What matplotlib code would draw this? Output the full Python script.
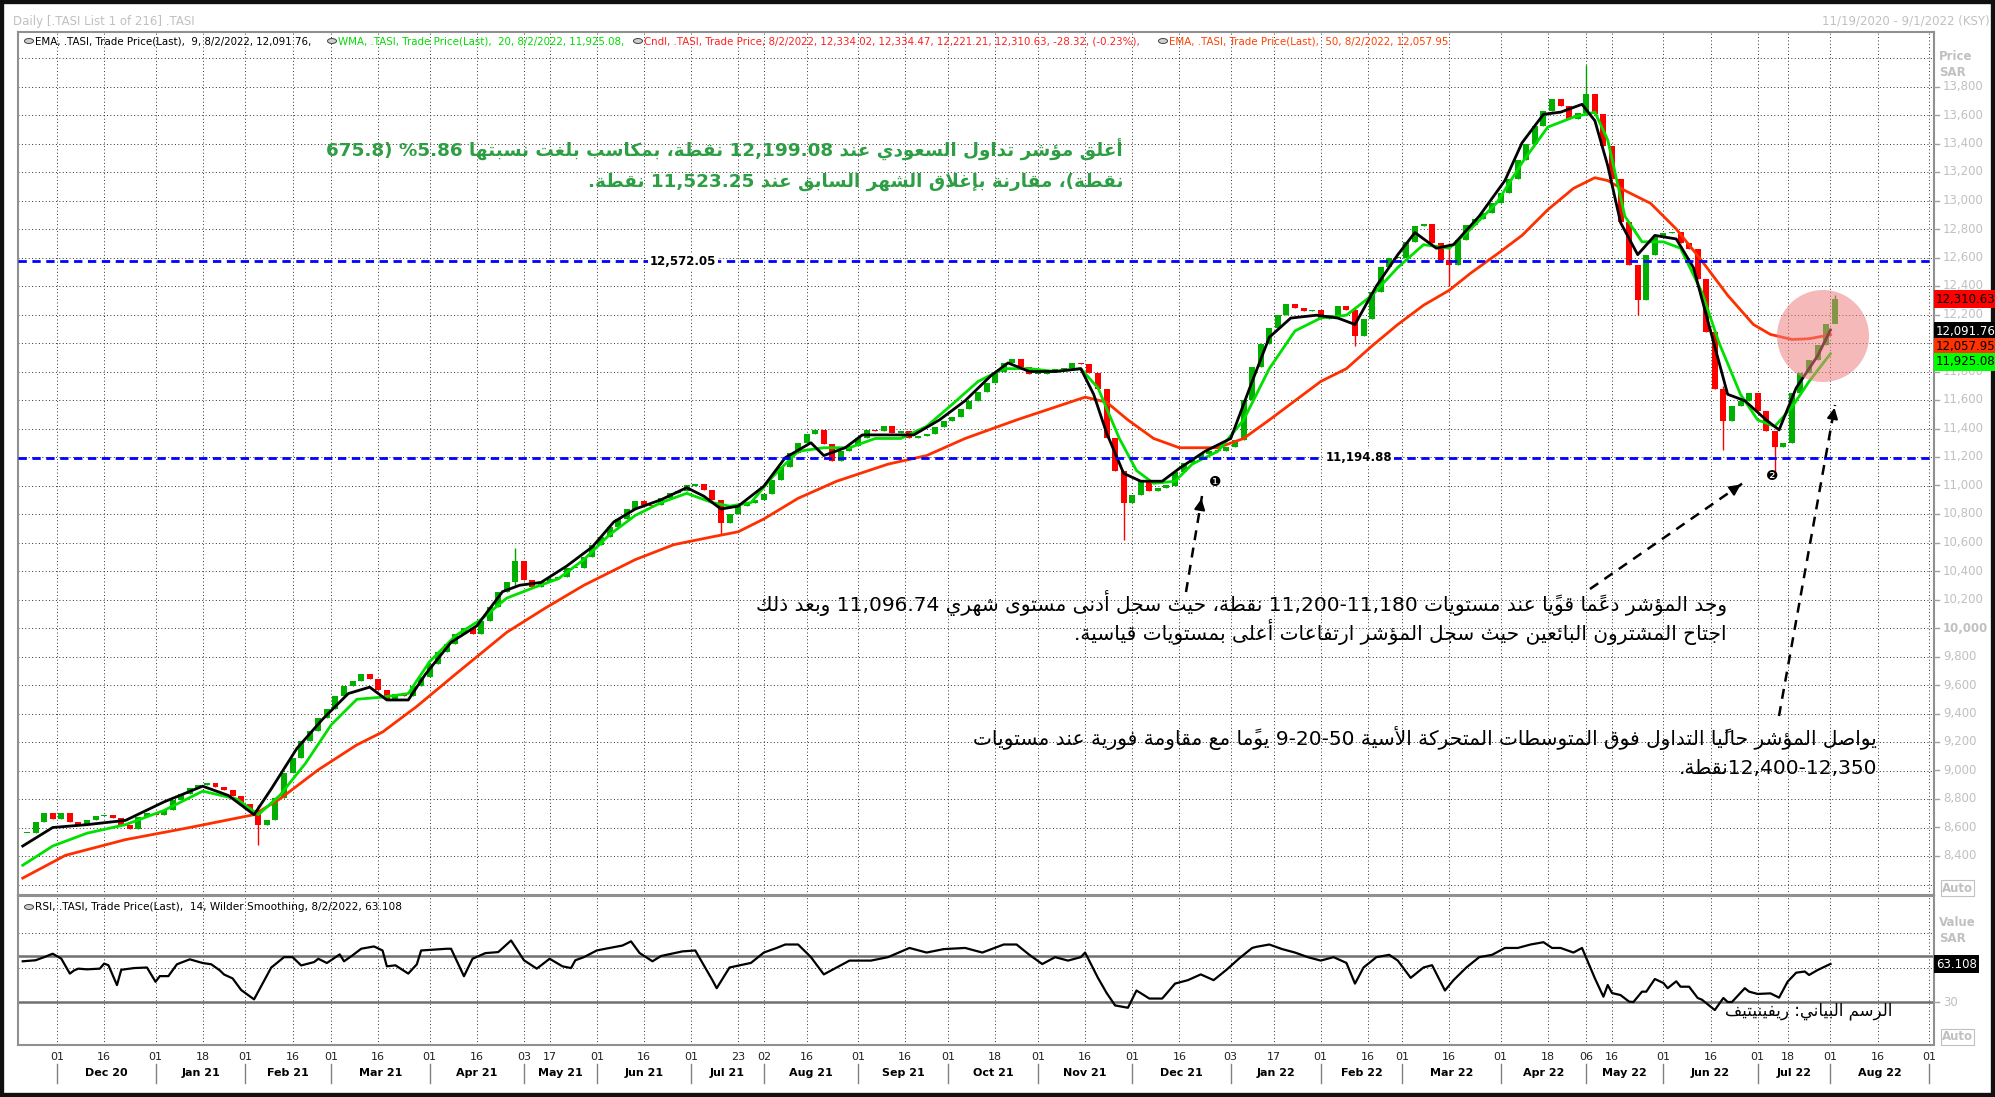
import numpy as np
import pandas as pd
import matplotlib
matplotlib.use("Agg")
import matplotlib.pyplot as plt
from matplotlib.patches import Rectangle, Ellipse, Circle, FancyArrowPatch
from matplotlib.lines import Line2D
import re

# ---------------- data ----------------
HOLIDAYS = ['2021-05-11', '2021-05-12', '2021-05-13', '2021-05-14',
            '2021-07-16', '2021-07-19', '2021-07-20', '2021-07-21', '2021-07-22',
            '2021-09-23', '2022-02-22', '2022-04-29', '2022-05-02', '2022-05-03',
            '2022-05-04', '2022-05-05', '2022-07-07', '2022-07-08', '2022-07-11', '2022-07-12']
START, LAST, AXIS_END = '2020-11-19', '2022-08-02', '2022-09-01'

# closes read every 2nd session, ending on the last session (8/2/2022)
close_2s = [8560, 8640, 8700, 8660, 8700, 8640, 8620, 8655, 8680, 8690,
            8670, 8620, 8590, 8675, 8700, 8685, 8720, 8790, 8835, 8880,
            8900, 8915, 8885, 8860, 8820, 8765, 8720, 8620, 8650, 8810,
            8980, 9090, 9210, 9280, 9370, 9430, 9520, 9595, 9625, 9680,
            9645, 9565, 9505, 9540, 9525, 9590, 9655, 9745, 9835, 9885,
            9960, 10000, 9960, 10050, 10145, 10255, 10320, 10470, 10340, 10290,
            10320, 10345, 10360, 10420, 10420, 10500, 10580, 10640, 10710, 10765,
            10835, 10890, 10865, 10860, 10915, 10950, 10960, 11000, 11010, 10970,
            10900, 10740, 10800, 10855, 10875, 10900, 10940, 11040, 11130, 11230,
            11295, 11360, 11390, 11290, 11170, 11240, 11280, 11335, 11390, 11380,
            11415, 11370, 11380, 11330, 11345, 11360, 11410, 11455, 11480, 11540,
            11595, 11655, 11720, 11795, 11860, 11890, 11830, 11780, 11780, 11800,
            11820, 11825, 11860, 11850, 11790, 11680, 11330, 11100, 10880, 10930,
            11040, 10960, 10980, 11000, 11095, 11155, 11190, 11220, 11240, 11240,
            11270, 11320, 11600, 11830, 11990, 12105, 12195, 12275, 12245, 12225,
            12235, 12170, 12195, 12260, 12235, 12050, 12170, 12360, 12535, 12595,
            12600, 12710, 12820, 12835, 12705, 12585, 12550, 12720, 12830, 12870,
            12915, 12980, 13050, 13150, 13285, 13400, 13525, 13630, 13715, 13660,
            13575, 13615, 13750, 13610, 13385, 13150, 12850, 12550, 12300, 12620,
            12750, 12770, 12780, 12700, 12660, 12450, 12080, 11680, 11450, 11560,
            11595, 11650, 11520, 11380, 11270, 11300, 11650, 11790, 11880, 11985,
            12130, 12310.63]
# notable wicks: candle number, low, high
wick_k = [27, 57, 81, 128, 155, 166, 182, 188, 198, 204, 211]
wick_lo = [8480, 10300, 10660, 10620, 11980, 12400, 13600, 12200, 11250, 11096.74, 12221.21]
wick_hi = [8760, 10560, 10900, 11100, 12250, 12700, 13950, 12550, 11700, 11380, 12334.47]

# moving averages (session number from 11/19/2020, value)
ema9_s = [0, 7, 15, 24, 33, 42, 48, 54, 58, 64, 70, 76, 81, 85, 90, 94, 100, 106, 112, 116, 121, 127, 133, 138,
          143, 149, 155, 159, 163, 167, 173, 178, 184, 187, 192, 196, 202, 208, 214, 220, 226, 230, 235, 241, 247,
          250, 253, 257, 261, 266, 270, 276, 282, 287, 291, 296, 302, 307, 311, 316, 321, 325, 330, 334, 340, 346,
          350, 355, 359, 364, 367, 370, 373, 377, 381, 386, 390, 394, 398, 402, 407, 410, 414, 419, 422]
ema9_v = [8470, 8600, 8620, 8650, 8780, 8890, 8825, 8690, 8870, 9155, 9360, 9540, 9585, 9495, 9495, 9675, 9900, 10015,
          10255, 10300, 10320, 10435, 10570, 10745, 10835, 10900, 10985, 10925, 10835, 10855, 10995, 11195, 11300,
          11210, 11265, 11355, 11355, 11355, 11460, 11595, 11770, 11860, 11800, 11800, 11820, 11640, 11370, 11085,
          11030, 11030, 11120, 11240, 11330, 11730, 12040, 12175, 12195, 12175, 12130, 12400, 12620, 12775, 12665,
          12690, 12890, 13140, 13405, 13605, 13620, 13675, 13560, 13245, 12845, 12620, 12755, 12730, 12530, 12085,
          11640, 11595, 11460, 11390, 11685, 11910, 12091.76]
wma20_s = [0, 7, 15, 24, 33, 42, 50, 55, 60, 66, 72, 78, 84, 90, 95, 101, 107, 113, 119, 125, 131, 137, 143, 149,
           155, 161, 165, 170, 175, 181, 187, 193, 199, 205, 211, 217, 223, 229, 235, 241, 247, 251, 256, 260, 264,
           269, 273, 279, 285, 291, 297, 303, 309, 315, 321, 327, 333, 338, 344, 350, 356, 362, 367, 370, 374, 378,
           383, 387, 392, 396, 401, 405, 409, 413, 417, 422]
wma20_v = [8335, 8470, 8560, 8620, 8720, 8855, 8800, 8690, 8825, 9050, 9320, 9500, 9515, 9540, 9765, 9945, 10060,
           10210, 10280, 10345, 10480, 10655, 10790, 10880, 10945, 10880, 10855, 10880, 11060, 11240, 11265, 11265,
           11330, 11330, 11415, 11570, 11730, 11820, 11820, 11800, 11820, 11685, 11330, 11105, 11015, 11030, 11150,
           11240, 11460, 11820, 12085, 12175, 12195, 12335, 12530, 12690, 12665, 12800, 12980, 13265, 13515, 13585,
           13620, 13425, 12890, 12710, 12710, 12665, 12355, 12000, 11640, 11460, 11415, 11550, 11730, 11925.08]
ema50_s = [0, 10, 24, 39, 54, 60, 69, 78, 84, 92, 101, 113, 122, 131, 143, 152, 161, 167, 173, 181, 190, 202, 211,
           220, 232, 241, 248, 253, 258, 264, 270, 279, 285, 291, 297, 303, 309, 315, 321, 327, 333, 338, 344, 350,
           356, 362, 367, 370, 374, 380, 386, 392, 398, 404, 408, 413, 417, 422]
ema50_v = [8245, 8405, 8515, 8600, 8690, 8800, 9005, 9180, 9270, 9450, 9675, 9970, 10140, 10300, 10480, 10585, 10640,
           10675, 10765, 10910, 11030, 11150, 11210, 11330, 11460, 11550, 11620, 11585, 11460, 11330, 11265, 11265,
           11330, 11460, 11595, 11730, 11820, 11980, 12130, 12265, 12370, 12490, 12620, 12755, 12935, 13085, 13160,
           13140, 13070, 12980, 12800, 12575, 12335, 12130, 12060, 12025, 12030, 12057.95]

# RSI(14) (session number, value)
rsi_s = [0, 3, 5, 7, 9, 11, 12, 13, 15, 18, 19, 20, 22, 23, 26, 29, 31, 32, 34, 36, 39, 42, 44, 46, 47, 49, 51, 54,
         56, 58, 61, 63, 65, 68, 69, 71, 74, 75, 77, 79, 82, 84, 85, 87, 90, 92, 93, 99, 100, 103, 105, 108, 111, 114,
         117, 120, 123, 126, 128, 129, 131, 134, 136, 140, 142, 144, 147, 149, 154, 157,
         161, 162, 165, 170, 173, 176, 178, 181, 184, 187, 190, 193, 198, 202, 207, 211, 215, 220, 224, 229, 232, 235,
         238, 241, 244, 247, 248, 251, 253, 255, 258, 260, 263, 266, 269, 272, 275, 278, 281, 284, 287, 288, 291, 294,
         297, 300, 303, 306, 309, 311, 313, 316, 319, 321, 324, 327, 329, 332, 334, 337, 340, 343, 346, 349, 352, 355,
         357, 359, 362, 364,
         367, 369, 370, 371, 373, 375, 376, 378, 379, 381, 383, 384, 386, 387, 389, 391, 392, 395, 397, 398, 399, 402,
         403, 405, 408, 410, 412, 414, 416, 417, 419, 421, 422]
rsi_v = [65.4, 66.3, 69, 72, 67.7, 54.7, 57.5, 59, 58.4, 59, 63.4, 62, 44.7, 58, 59.5, 60, 47.6, 52.5, 52.5, 62.8,
         67.1, 63.9, 62.8, 57.5, 53.9, 50.5, 40.4, 32.3, 46.1, 59.9, 69, 69, 61.8, 64.7, 67.6, 63.9, 71.4, 65.4, 70.6,
         76.3, 78.3, 74.8, 61, 61.9, 54.7, 62.8, 74.8, 76.3, 76.3, 52.4, 67.6, 72.5, 73.4, 83.5, 66.3, 59, 67.6, 61,
         59.5, 66.3, 69, 74.8, 76.3, 79.1, 82.7, 72.6, 65.4, 70, 74, 74.8,
         49, 42, 60, 64, 73, 77, 80, 80, 69, 54, 60, 66, 66, 69, 77, 73, 76, 77, 73, 80, 80, 71, 63, 69, 66, 69, 73,
         51, 38, 27, 25, 40, 33, 33, 46, 49, 54, 49, 58, 68, 77, 78, 80, 76, 73, 69, 66, 69, 64, 46, 60, 69, 71, 66,
         51, 60, 62, 40, 49, 60, 69, 71, 77, 77, 80, 82, 77, 77, 73, 77,
         50.6, 34.6, 44.8, 37.8, 36, 30.3, 30, 39, 39, 50, 46.5, 42, 48, 43.3, 43.3, 33.5, 32, 23, 33.5, 30, 30, 42,
         39, 37, 37.5, 33.8, 47.7, 55.5, 56.5, 53.5, 57.8, 61.3, 63.108]

level_hi, level_lo = 12572.05, 11194.88
last_close, last_ema9, last_ema50, last_wma20, last_rsi = 12310.63, 12091.76, 12057.95, 11925.08, 63.108

# ---------------- figure helpers ----------------
W, H = 1995, 1097
fig = plt.figure(figsize=(W / 100, H / 100), dpi=100)
fig.patch.set_facecolor('white')
def fx(x): return x / W
def fy(y): return 1 - y / H

# ---------------- arabic shaping ----------------
_forms = [('\u0621', 0xFE80, 1), ('\u0622', 0xFE81, 2), ('\u0623', 0xFE83, 2), ('\u0624', 0xFE85, 2),
          ('\u0625', 0xFE87, 2), ('\u0626', 0xFE89, 4), ('\u0627', 0xFE8D, 2), ('\u0628', 0xFE8F, 4),
          ('\u0629', 0xFE93, 2), ('\u062A', 0xFE95, 4), ('\u062B', 0xFE99, 4), ('\u062C', 0xFE9D, 4),
          ('\u062D', 0xFEA1, 4), ('\u062E', 0xFEA5, 4), ('\u062F', 0xFEA9, 2), ('\u0630', 0xFEAB, 2),
          ('\u0631', 0xFEAD, 2), ('\u0632', 0xFEAF, 2), ('\u0633', 0xFEB1, 4), ('\u0634', 0xFEB5, 4),
          ('\u0635', 0xFEB9, 4), ('\u0636', 0xFEBD, 4), ('\u0637', 0xFEC1, 4), ('\u0638', 0xFEC5, 4),
          ('\u0639', 0xFEC9, 4), ('\u063A', 0xFECD, 4), ('\u0641', 0xFED1, 4), ('\u0642', 0xFED5, 4),
          ('\u0643', 0xFED9, 4), ('\u0644', 0xFEDD, 4), ('\u0645', 0xFEE1, 4), ('\u0646', 0xFEE5, 4),
          ('\u0647', 0xFEE9, 4), ('\u0648', 0xFEED, 2), ('\u0649', 0xFEEF, 2), ('\u064A', 0xFEF1, 4)]
FORMS = {c: (bb, n) for c, bb, n in _forms}
LAMALEF = {'\u0622': 0xFEF5, '\u0623': 0xFEF7, '\u0625': 0xFEF9, '\u0627': 0xFEFB}
def is_mark(c): return '\u064B' <= c <= '\u0652'

def shape(s):
    chars = list(s)
    n = len(chars)
    def prev_letter(i):
        j = i - 1
        while j >= 0 and is_mark(chars[j]): j -= 1
        return j
    def next_letter(i):
        j = i + 1
        while j < n and is_mark(chars[j]): j += 1
        return j
    skip = set()
    res = []
    for i, c in enumerate(chars):
        if i in skip: continue
        if c not in FORMS:
            res.append(c); continue
        base, nf = FORMS[c]
        p = prev_letter(i)
        jp = p >= 0 and chars[p] in FORMS and FORMS[chars[p]][1] == 4
        nx = next_letter(i)
        if c == '\u0644' and nx < n and chars[nx] in LAMALEF:
            res.append(chr(LAMALEF[chars[nx]] + (1 if jp else 0)))
            for k in range(i + 1, nx): res.append(chars[k])
            skip.update(range(i + 1, nx + 1))
            continue
        jn = nf == 4 and nx < n and chars[nx] in FORMS and FORMS[chars[nx]][1] >= 2
        if nf == 1: res.append(chr(base))
        elif jp and jn: res.append(chr(base + 3))
        elif jp: res.append(chr(base + 1))
        elif jn: res.append(chr(base + 2))
        else: res.append(chr(base))
    return ''.join(res)

MIRROR = {'(': ')', ')': '('}
def rtl(s):
    s = shape(s)
    tokens = re.findall(r'[0-9][0-9,.\-]*[0-9]|[0-9]|.[\u064B-\u0652]*', s)
    tokens = [MIRROR.get(t, t) for t in tokens]
    return ''.join(reversed(tokens))

AR = ['DejaVu Sans']

# ---------------- calendar ----------------
cal = pd.bdate_range(START, AXIS_END)
cal = cal[~cal.isin(pd.to_datetime(HOLIDAYS))]
idx_of = {d: i for i, d in enumerate(cal)}
i_last = idx_of[pd.Timestamp(LAST)]

ticks = []
for per in pd.period_range('2020-12', '2022-09', freq='M'):
    for day in (1, 16):
        if per.month == 9 and per.year == 2022 and day == 16: continue
        d0 = pd.Timestamp(year=per.year, month=per.month, day=day)
        cand = cal[(cal >= d0) & (cal.month == per.month)]
        if len(cand):
            ticks.append((idx_of[cand[0]], cand[0], day == 1))
month_starts = [(i, d) for i, d, f in ticks if f]
i_dec1 = month_starts[0][0]; i_sep1 = month_starts[-1][0]
b = (1929 - 57) / (i_sep1 - i_dec1)
x_left = i_dec1 - (57 - 18) / b
x_right = i_sep1 + (1934 - 1929) / b
def xpix(i): return 18 + (i - x_left) * b

# ---------------- axes ----------------
ax = fig.add_axes([fx(18), fy(895), (1934 - 18) / W, (895 - 32) / H])
ax2 = fig.add_axes([fx(18), fy(1045), (1934 - 18) / W, (1045 - 896) / H])
PPX = 0.1425  # px per price unit
p_top, p_bot = 13800 + (86.5 - 32) / PPX, 13800 - (895 - 86.5) / PPX
def ypix(p): return 86.5 + (13800 - p) * PPX
ax.set_ylim(p_bot, p_top)
r_top, r_bot = 70 + (956 - 896) / 1.15, 30 - (1045 - 1002) / 1.15
ax2.set_ylim(r_bot, r_top)
for a in (ax, ax2):
    a.set_xlim(x_left, x_right)
    a.set_xticks([]); a.set_yticks([])
    for s in a.spines.values():
        s.set_color('#909090'); s.set_linewidth(1.5)

grid_kw = dict(color='#303030', lw=0.7, ls=(0, (1, 2.5)), zorder=0)
for lvl in range(8200, 14100, 200):
    ax.axhline(lvl, **grid_kw)
for i, d, f in ticks:
    ax.axvline(i, **grid_kw)
    ax2.axvline(i, **grid_kw)
for lvl in (60, 90):
    ax2.axhline(lvl, **grid_kw)
ax2.axhline(70, color='#707070', lw=1.8, zorder=1)
ax2.axhline(30, color='#707070', lw=1.8, zorder=1)

# price tick labels
for lvl in range(8400, 13801, 200):
    yy = ypix(lvl)
    fig.add_artist(Line2D([fx(1934), fx(1939)], [fy(yy), fy(yy)], color='#a0a0a0', lw=1))
    if lvl == 12000:
        continue  # hidden behind the value boxes
    fig.text(fx(1943), fy(yy), f'{lvl:,}', color='#c0c0c0', fontsize=8.5, va='center',
             fontweight='bold' if lvl == 10000 else 'normal')
fig.text(fx(1939), fy(56), 'Price', color='#c0c0c0', fontsize=8.5, va='center', fontweight='bold')
fig.text(fx(1939), fy(73), 'SAR', color='#c0c0c0', fontsize=8.5, va='center', fontweight='bold')
for yy in (888, 1037):
    fig.text(fx(1942), fy(yy), 'Auto', color='#c0c0c0', fontsize=8.5, va='center', fontweight='bold',
             bbox=dict(boxstyle='square,pad=0.1', fc='white', ec='#c0c0c0', lw=0.8))
fig.text(fx(1939), fy(922), 'Value', color='#c0c0c0', fontsize=8.5, va='center', fontweight='bold')
fig.text(fx(1939), fy(939), 'SAR', color='#c0c0c0', fontsize=8.5, va='center', fontweight='bold')
fig.text(fx(1943), fy(1002), '30', color='#c0c0c0', fontsize=8.5, va='center')
fig.add_artist(Line2D([fx(1934), fx(1939)], [fy(1002), fy(1002)], color='#a0a0a0', lw=1))

# ---------------- candles ----------------
close = np.array(close_2s, dtype=float)
n = len(close)
xi = i_last - 2 * (n - 1 - np.arange(n))
opn = np.r_[close[0], close[:-1]]
hi = np.maximum(opn, close); lo = np.minimum(opn, close)
for k, l, h in zip(wick_k, wick_lo, wick_hi):
    lo[k] = l; hi[k] = h
up = close >= opn
ax.vlines(xi, lo, hi, color=np.where(up, '#00a000', '#ff0000'), lw=1, zorder=3)
body = np.maximum(np.abs(close - opn), 8)
ax.bar(xi[up], body[up], bottom=opn[up], width=1.4, color='#00b000', zorder=3)
ax.bar(xi[~up], -body[~up], bottom=opn[~up], width=1.4, color='#ff0000', zorder=3)

ax.plot(ema50_s, ema50_v, color='#ff3000', lw=2, zorder=4)
ax.plot(wma20_s, wma20_v, color='#00e000', lw=2, zorder=5)
ax.plot(ema9_s, ema9_v, color='black', lw=2, zorder=6)

# levels
for lvl, xc in ((level_hi, 683), (level_lo, 1359)):
    ax.axhline(lvl, color='#0000ff', lw=2, ls=(0, (3, 2)), zorder=7)
    fig.text(fx(xc), fy(ypix(lvl)), f'{lvl:,.2f}', fontsize=8.5, fontweight='bold', ha='center', va='center',
             bbox=dict(boxstyle='square,pad=0.15', fc='white', ec='none'), zorder=8)

# pink circle
cx = (1823 - 18) / b + x_left
ax.add_patch(Ellipse((cx, 13800 - (336 - 86.5) / PPX), 2 * 46 / b, 2 * 46 / PPX,
                     fc='#f08080', ec='none', alpha=0.55, zorder=9))

# right value boxes
for val, yy, fc, tc in ((last_close, 299, '#ff0000', 'black'), (last_ema9, 331, 'black', 'white'),
                        (last_ema50, 347, '#ff3300', 'black'), (last_wma20, 362, '#00ff00', 'black')):
    fig.text(fx(1936), fy(yy), f'{val:,.2f}', color=tc, fontsize=8.5, va='center', zorder=10,
             bbox=dict(boxstyle='square,pad=0.2', fc=fc, ec='none'))
fig.text(fx(1936), fy(964), f'{last_rsi:.3f}', color='white', fontsize=8.5, va='center',
         bbox=dict(boxstyle='square,pad=0.2', fc='black', ec='none'))

# ---------------- RSI ----------------
ax2.plot(rsi_s, rsi_v, color='black', lw=1.6, zorder=5)

# ---------------- x labels ----------------
for i, d, f in ticks:
    fig.text(fx(xpix(i)), fy(1057), f'{d.day:02d}', fontsize=8, ha='center', va='center', color='#202020')
for k, (i, d) in enumerate(month_starts):
    xp = xpix(i)
    fig.add_artist(Line2D([fx(xp), fx(xp)], [fy(1064), fy(1083)], color='#808080', lw=1))
    if k + 1 < len(month_starts):
        xn = xpix(month_starts[k + 1][0])
        fig.text(fx((xp + xn) / 2), fy(1073), d.strftime('%b %y'), fontsize=8, fontweight='bold',
                 ha='center', va='center')

# ---------------- header / legends ----------------
fig.text(fx(13), fy(21), 'Daily [.TASI List 1 of 216] .TASI', color='#c0c0c0', fontsize=8.5, va='center')
fig.text(fx(1990), fy(21), '11/19/2020 - 9/1/2022 (KSY)', color='#c0c0c0', fontsize=8.5, va='center', ha='right')
leg = [(25, 'EMA, .TASI, Trade Price(Last),  9, 8/2/2022, 12,091.76,', 'black'),
       (328, 'WMA, .TASI, Trade Price(Last),  20, 8/2/2022, 11,925.08,', '#00dd00'),
       (634, 'Cndl, .TASI, Trade Price, 8/2/2022, 12,334.02, 12,334.47, 12,221.21, 12,310.63, -28.32, (-0.23%),', '#ff2020'),
       (1159, 'EMA, .TASI, Trade Price(Last),  50, 8/2/2022, 12,057.95', '#ff4000')]
for xp, t, c in leg:
    fig.add_artist(Circle((fx(xp + 4), fy(41)), 4.5 / W, transform=fig.transFigure, fc='#d0d0d0', ec='#404040', lw=0.7))
    fig.text(fx(xp + 10), fy(41), t, color=c, fontsize=7.4, va='center')
fig.add_artist(Circle((fx(29), fy(907)), 4.5 / W, transform=fig.transFigure, fc='#d0d0d0', ec='#404040', lw=0.7))
fig.text(fx(35), fy(907), 'RSI, .TASI, Trade Price(Last),  14, Wilder Smoothing, 8/2/2022, 63.108',
         fontsize=7.6, va='center')

# ---------------- annotations ----------------
T1 = ["أغلق مؤشر تداول السعودي عند 12,199.08 نقطة، بمكاسب بلغت نسبتها 5.86% (675.8",
      "نقطة)، مقارنة بإغلاق الشهر السابق عند 11,523.25 نقطة."]
T2 = ["وجد المؤشر دعمًا قويًا عند مستويات 11,200-11,180 نقطة، حيث سجل أدنى مستوى شهري 11,096.74 وبعد ذلك",
      "اجتاح المشترون البائعين حيث سجل المؤشر ارتفاعات أعلى بمستويات قياسية."]
T3 = ["يواصل المؤشر حاليًا التداول فوق المتوسطات المتحركة الأسية 9-20-50 يومًا مع مقاومة فورية عند مستويات",
      "12,400-12,350نقطة."]
WM = "الرسم البياني: ريفينيتيف"
for lines, xr, ys, col, fs, fw in ((T1, 1123, (150, 182), '#2e9e45', 13.2, 'bold'),
                                   (T2, 1727, (603, 632), 'black', 14.5, 'normal'),
                                   (T3, 1877, (738, 768), 'black', 14.5, 'normal')):
    for ln, yy in zip(lines, ys):
        fig.text(fx(xr), fy(yy), rtl(ln), family=AR, fontsize=fs, color=col, fontweight=fw,
                 ha='right', va='center', zorder=20)
fig.text(fx(1892), fy(1011), rtl(WM), family=AR, fontsize=12, ha='right', va='center')

for (x0, y0), (x1, y1) in (((1186, 592), (1202, 496)), ((1590, 589), (1743, 483)), ((1779, 716), (1835, 405))):
    fig.add_artist(Line2D([fx(x0), fx(x1)], [fy(y0), fy(y1)], color='black', lw=1.8, ls=(0, (4, 3))))
    dx, dy = x1 - x0, y1 - y0
    L = np.hypot(dx, dy)
    fig.add_artist(FancyArrowPatch((fx(x1 - dx / L * 14), fy(y1 - dy / L * 14)), (fx(x1), fy(y1)),
                                   transform=fig.transFigure, arrowstyle='-|>', mutation_scale=16,
                                   color='black', lw=1.5))
fig.text(fx(1215), fy(482), '\u2776', fontsize=10, ha='center', va='center')
fig.text(fx(1772), fy(476), '\u2777', fontsize=10, ha='center', va='center')

# outer frame
fig.add_artist(Rectangle((0, 0), 1, 1, transform=fig.transFigure, fill=False, ec='#101010', lw=6))

fig.savefig('out.png', dpi=100)
